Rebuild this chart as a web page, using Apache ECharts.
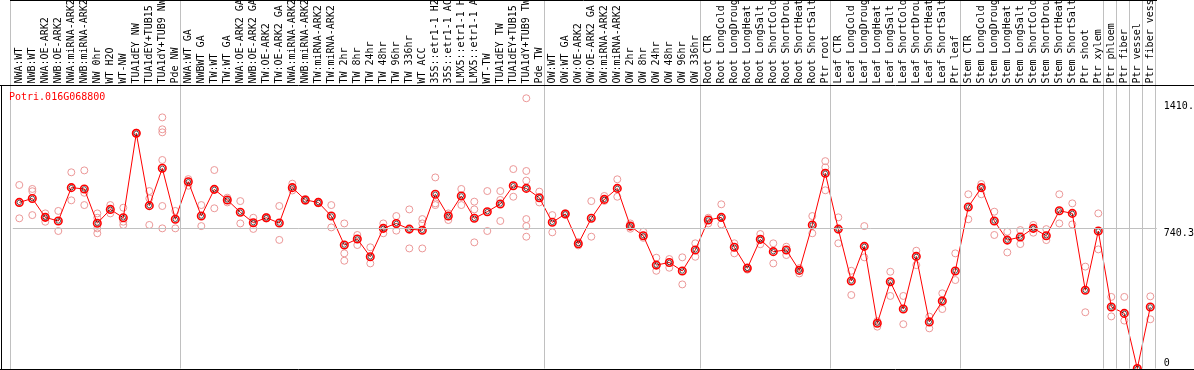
<!DOCTYPE html>
<html>
<head>
<meta charset="utf-8">
<script src="https://cdn.jsdelivr.net/npm/echarts@6/dist/echarts.min.js"></script>
<style>
html,body{margin:0;padding:0;background:#fff;}
#chart{width:1194px;height:370px;}
</style>
</head>
<body>
<div id="chart"></div>
<script>
const geneName = 'Potri.016G068800';

const categories = [
  'NWA:WT','NWB:WT','NWA:OE-ARK2','NWB:OE-ARK2','NWA:miRNA-ARK2','NWB:miRNA-ARK2','NW 0hr','WT H2O','WT-NW',
  'TUA1dEY NW','TUA1dEY+TUB15 NW','TUA1dY+TUB9 NW','Pde NW',
  'NWA:WT GA','NWBWT GA','TW:WT','TW:WT GA','NWA:OE-ARK2 GA','NWB:OE-ARK2 GA','TW:OE-ARK2','TW:OE-ARK2 GA',
  'NWA:miRNA-ARK2 GA','NWB:miRNA-ARK2 GA','TW:miRNA-ARK2','TW:miRNA-ARK2 GA',
  'TW 2hr','TW 8hr','TW 24hr','TW 48hr','TW 96hr','TW 336hr','WT ACC',
  '35S::etr1-1 H2O','35S::etr1-1 ACC','LMX5::etr1-1 H2O','LMX5::etr1-1 ACC','WT-TW',
  'TUA1dEY TW','TUA1dEY+TUB15 TW','TUA1dY+TUB9 TW','Pde TW',
  'OW:WT','OW:WT GA','OW:OE-ARK2','OW:OE-ARK2 GA','OW:miRNA-ARK2','OW:miRNA-ARK2 GA',
  'OW 2hr','OW 8hr','OW 24hr','OW 48hr','OW 96hr','OW 336hr',
  'Root CTR','Root LongCold','Root LongDrought','Root LongHeat','Root LongSalt',
  'Root ShortCold','Root ShortDrought','Root ShortHeat','Root ShortSalt','Ptr root',
  'Leaf CTR','Leaf LongCold','Leaf LongDrought','Leaf LongHeat','Leaf LongSalt',
  'Leaf ShortCold','Leaf ShortDrought','Leaf ShortHeat','Leaf ShortSalt','Ptr leaf',
  'Stem CTR','Stem LongCold','Stem LongDrought','Stem LongHeat','Stem LongSalt',
  'Stem ShortCold','Stem ShortDrought','Stem ShortHeat','Stem ShortSalt','Ptr shoot',
  'Ptr xylem','Ptr phloem','Ptr fiber','Ptr vessel','Ptr fiber vessel'
];

const meanValues = [
  877,898,798,779,955,948,767,840,796,1242,860,1057,788,
  986,805,946,890,825,770,796,768,955,890,877,805,
  652,684,590,740,766,736,730,920,805,911,793,828,869,965,951,902,
  772,816,659,793,893,951,752,701,546,560,515,626,
  784,798,640,529,682,617,626,518,758,1031,
  736,462,645,239,458,314,592,246,356,515,
  853,955,779,678,694,740,701,833,819,413,
  726,325,291,0,325
];

const replicateValues = [
  [969,793],[948,810,936],[819,775,800],[832,726],[1036,888],[1046,928,863],[819,796,740,714],[863,819],[849,775,758],
  [1245,1240],[937,898,758],[1326,1263,1247,1101,858,740],[832,740],
  [1000,965],[863,752],[1048,846],[902,877],[884,766],[796,737],[800,792],[858,679],
  [976,940],[895,885],[880,872],[863,745],
  [766,608,569],[705,652],[640,555],[766,714],[805,728],[840,634],[789,766,634],
  [1009,872,863],[784,819],[948,863],[881,840,666],[937,726],
  [937,890,779],[1053,907],[1427,1043,992,789,752,696],[934,877],
  [810,719],[820,812],[668,650],[884,696],[911,885],[999,907],
  [766,738],[722,690],[585,516],[578,532],[587,444],[661,590],
  [796,766],[867,761],[661,608],[535,522],[710,656],
  [661,555],[643,599],[502,530],[805,714],[1095,1062,941],
  [798,661],[516,388],[752,587],[221,250],[511,383],
  [383,234],[622,546],[274,212],[397,314],[608,467],
  [920,788],[974,920],[828,705],[722,613],[731,657],
  [758,717],[736,678],[920,766],[872,761],[538,297],
  [819,629],[378,275],[378,253],[0],[381,260]
];

const yTickLabelsTop = [740.3, 1410.7];
const yTickLabelsBottom = [0];
const gridLineValue = 740.3;
// index of the last category in each group (a separator follows it)
const groupEndIndex = [12, 40, 52, 62, 72, 83, 84, 85, 86, 87];

const MONO = 'DejaVu Sans Mono';
const Y_MAX = 1945.8;

const repData = [];
replicateValues.forEach((arr, i) => arr.forEach(v => repData.push([i, v])));

const chart = echarts.init(document.getElementById('chart'), null, {renderer: 'canvas'});

const yBase = {
  type: 'value', min: 0, max: Y_MAX, position: 'right',
  axisLine: {show: false}, axisTick: {show: false}, splitLine: {show: false}
};

chart.setOption({
  animation: false,
  backgroundColor: '#fff',
  title: {
    text: geneName, left: 9, top: 92, padding: 0,
    textStyle: {color: '#ff0000', fontFamily: MONO, fontSize: 10, fontWeight: 'normal'}
  },
  grid: {left: 12.8, width: 1144, top: 0, bottom: 1.5, containLabel: false, outerBoundsMode: 'none'},
  xAxis: [
    {
      type: 'category', data: categories, position: 'top', offset: -85.5,
      boundaryGap: true,
      axisLine: {show: false}, axisTick: {show: false}, splitLine: {show: false},
      axisLabel: {interval: 0, rotate: 90, margin: 2, color: '#000', fontFamily: MONO, fontSize: 10}
    },
    {type: 'value', min: -0.5, max: 87.5, show: false}
  ],
  yAxis: [
    Object.assign({}, yBase, {
      axisLabel: {customValues: yTickLabelsTop, verticalAlign: 'top', margin: 7, color: '#000',
        fontFamily: MONO, fontSize: 10, formatter: v => String(v)}
    }),
    Object.assign({}, yBase, {
      axisLabel: {customValues: yTickLabelsBottom, verticalAlign: 'bottom', margin: 7, color: '#000',
        fontFamily: MONO, fontSize: 10, formatter: v => String(v)}
    })
  ],
  graphic: [
    {type: 'line', shape: {x1: 0, y1: 85.5, x2: 1194, y2: 85.5}, style: {stroke: '#000', lineWidth: 1}, z: 10},
    {type: 'line', shape: {x1: 0, y1: 369.5, x2: 1194, y2: 369.5}, style: {stroke: '#000', lineWidth: 1}, z: 10},
    {type: 'line', shape: {x1: 10, y1: 0.5, x2: 1157, y2: 0.5}, style: {stroke: '#000', lineWidth: 1}, z: 10},
    {type: 'line', shape: {x1: 1.5, y1: 85, x2: 1.5, y2: 370}, style: {stroke: '#000', lineWidth: 1}, z: 10},
    {type: 'line', shape: {x1: 10.5, y1: 0, x2: 10.5, y2: 370}, style: {stroke: '#c0c0c0', lineWidth: 1}, z: 1}
  ],
  series: [
    {
      type: 'line', xAxisIndex: 1, yAxisIndex: 0, data: [], silent: true,
      markLine: {
        silent: true, symbol: 'none', animation: false,
        label: {show: false},
        lineStyle: {color: '#c0c0c0', width: 1, type: 'solid'},
        data: groupEndIndex.map(i => ({xAxis: i + 0.385})).concat([{yAxis: gridLineValue}])
      },
      z: 1
    },
    {
      type: 'scatter', xAxisIndex: 0, yAxisIndex: 0, data: repData, silent: true,
      symbol: 'circle', symbolSize: 7,
      itemStyle: {color: 'rgba(0,0,0,0)', borderColor: '#ec9898', borderWidth: 1, opacity: 1},
      z: 2
    },
    {
      type: 'line', xAxisIndex: 0, yAxisIndex: 0, data: meanValues, silent: true,
      showSymbol: true, showAllSymbol: true,
      symbol: 'circle', symbolSize: 7.5,
      lineStyle: {color: '#ff0000', width: 1},
      itemStyle: {color: 'rgba(0,0,0,0)', borderColor: '#ff0000', borderWidth: 1.6},
      z: 3
    },
    {
      type: 'scatter', xAxisIndex: 0, yAxisIndex: 0, data: meanValues, silent: true,
      symbol: 'circle', symbolSize: 4.5,
      itemStyle: {color: 'rgba(0,0,0,0)', borderColor: '#000000', borderWidth: 0.8},
      z: 4
    }
  ]
});
</script>
</body>
</html>
